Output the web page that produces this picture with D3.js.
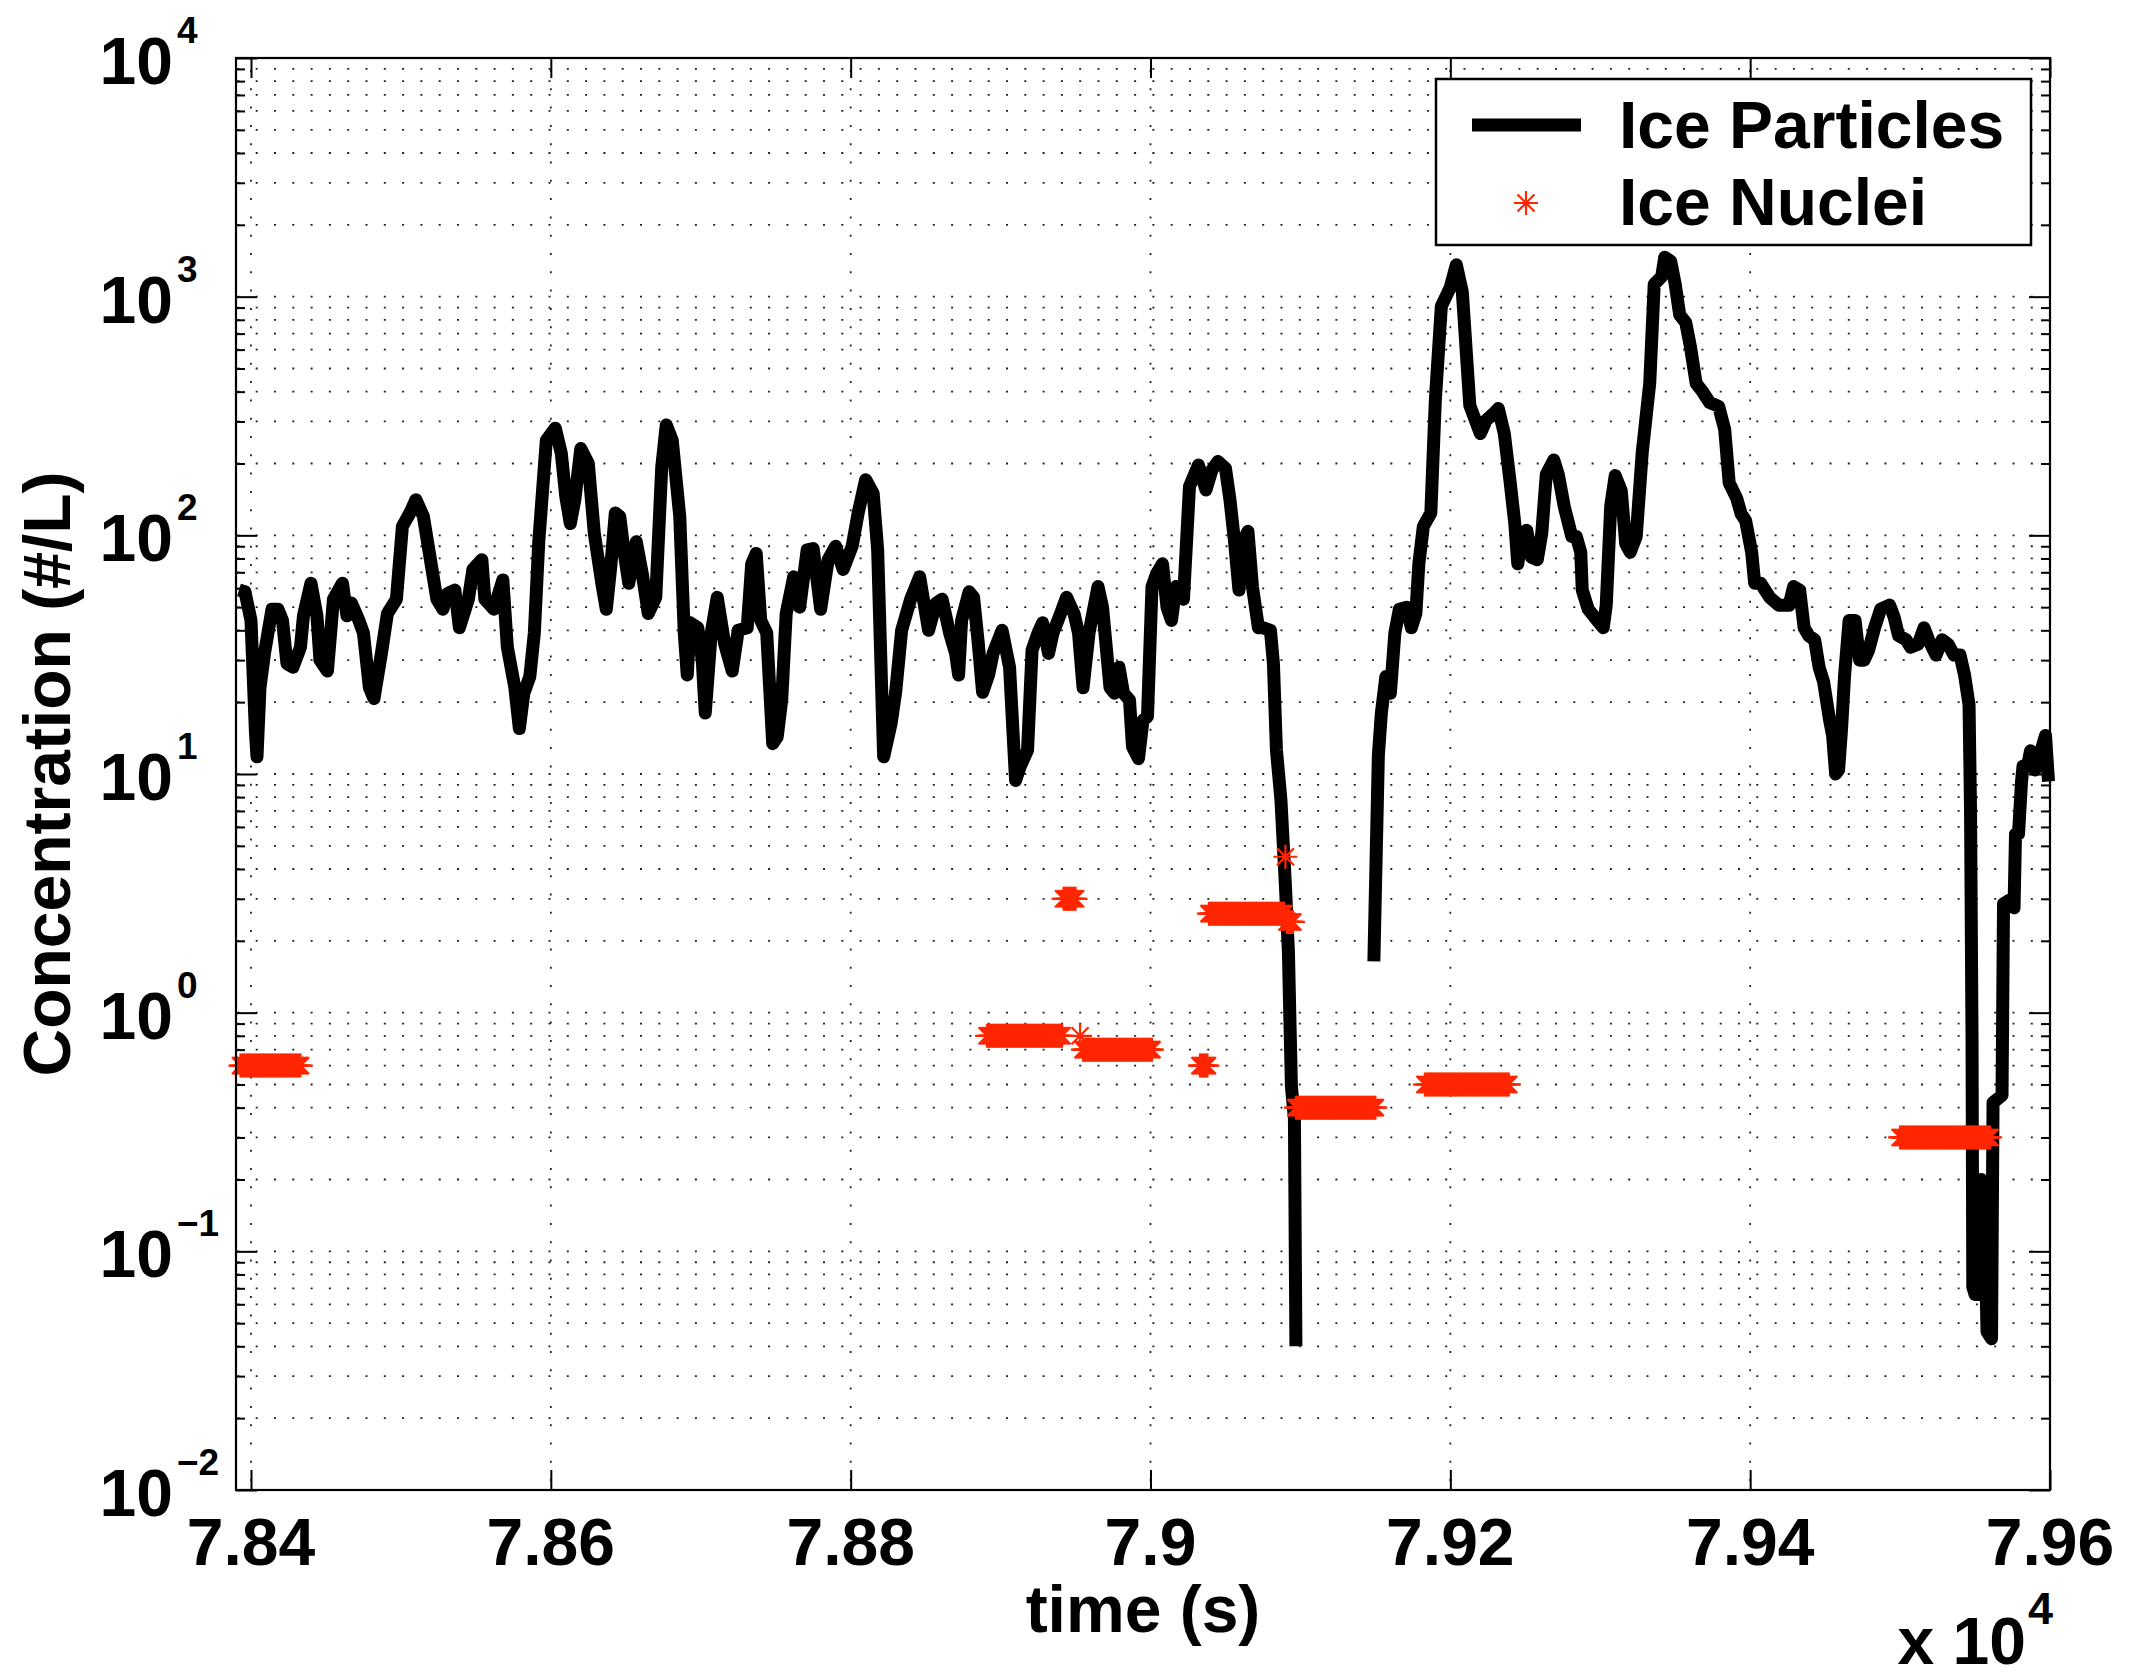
<!DOCTYPE html>
<html>
<head>
<meta charset="utf-8">
<script src="https://cdn.jsdelivr.net/npm/d3@7"></script>
<style>
  html, body { margin: 0; padding: 0; background: #fff; }
  svg { display: block; }
  text { font-family: "Liberation Sans", Arial, Helvetica, sans-serif; font-weight: bold; fill: #000; }
</style>
</head>
<body>
<svg id="chart" width="2132" height="1672"></svg>
<script>
// ---- Ice particle concentration time series (#/L); null marks missing data ----
const ipTime = [
  78392, 78396, 78400, 78403, 78404, 78406, 78409, 78414, 78418, 78421,
  78424, 78428, 78433, 78435, 78440, 78444, 78446, 78451, 78455, 78461,
  78464, 78467, 78472, 78475, 78479, 78482, 78487, 78491, 78497, 78501,
  78506, 78510, 78515, 78519, 78524, 78528, 78531, 78536, 78539, 78545,
  78548, 78554, 78556, 78562, 78568, 78571, 78576, 78579, 78582, 78586,
  78589, 78592, 78597, 78603, 78607, 78610, 78613, 78616, 78620, 78625,
  78629, 78634, 78637, 78640, 78643, 78646, 78649, 78652, 78657, 78661,
  78665, 78670, 78674, 78677, 78681, 78686, 78689, 78691, 78693, 78698,
  78701, 78703, 78707, 78711, 78716, 78721, 78725, 78731, 78734, 78737,
  78740, 78744, 78748, 78751, 78754, 78757, 78762, 78766, 78771, 78775,
  78780, 78785, 78790, 78795, 78801, 78805, 78810, 78815, 78818, 78822,
  78827, 78830, 78834, 78840, 78846, 78852, 78857, 78861, 78866, 78870,
  78872, 78874, 78879, 78882, 78885, 78888, 78892, 78895, 78901, 78906,
  78910, 78913, 78918, 78921, 78925, 78928, 78932, 78935, 78940, 78944,
  78949, 78952, 78955, 78959, 78965, 78968, 78973, 78976, 78979, 78982,
  78986, 78988, 78992, 78995, 78998, 79001, 79004, 79008, 79011, 79014,
  79017, 79022, 79026, 79032, 79037, 79041, 79045, 79050, 79053, 79056,
  79059, 79061, 79065, 79068, 79072, 79075, 79080, 79082, 79084, 79087,
  79089, 79090, 79092, 79093, 79094, 79096, 79097, 79120, 79149, 79152,
  79154, 79157, 79160, 79163, 79166, 79171, 79174, 79177, 79179, 79182,
  79187, 79190, 79194, 79200, 79204, 79208, 79213, 79220, 79224, 79229,
  79232, 79236, 79240, 79243, 79245, 79248, 79251, 79254, 79258, 79261,
  79264, 79269, 79272, 79276, 79281, 79284, 79287, 79288, 79292, 79298,
  79302, 79304, 79307, 79310, 79314, 79317, 79320, 79324, 79328, 79333,
  79336, 79341, 79343, 79347, 79350, 79353, 79357, 79360, 79364, 79368,
  79373, 79379, 79383, 79386, 79391, 79394, 79397, 79401, 79403, 79407,
  79413, 79419, 79426, 79429, 79433, 79436, 79439, 79443, 79446, 79449,
  79453, 79455, 79457, 79459, 79461, 79463, 79466, 79470, 79473, 79476,
  79479, 79483, 79487, 79493, 79496, 79499, 79504, 79507, 79512, 79516,
  79519, 79524, 79528, 79532, 79536, 79540, 79543, 79546, 79547, 79548,
  79548.5, 79550, 79553, 79554, 79556, 79558, 79561, 79562, 79565, 79568,
  79569, 79573, 79576, 79577, 79579, 79581, 79582, 79585, 79587, 79590,
  79594, 79597, 79599
];
const ipConc = [
  59, 58, 44, 14.8, 11.8, 23, 32, 49, 49, 44,
  29, 28, 34, 46, 63, 46, 30, 27, 54, 63,
  46, 52, 44, 39, 23, 20.7, 32, 47, 54, 109,
  124, 141, 120, 84, 54, 49, 57, 59, 41, 54,
  72, 79, 54, 49, 65, 34, 23, 15.5, 21.8, 25.6,
  39, 95, 250, 281, 220, 145, 112, 141, 231, 200,
  102, 63, 49, 74, 124, 120, 84, 63, 94, 69,
  47, 55, 194, 290, 250, 120, 39, 26, 43, 41,
  30, 18, 39, 55, 35, 27, 40, 41, 76, 84,
  44, 39, 13.4, 14.3, 20.4, 47, 67, 50, 87, 88,
  49, 79, 90, 72, 90, 124, 171, 150, 87, 11.8,
  16.3, 22, 40, 54, 67, 40, 52, 54, 39, 32,
  26, 44, 58, 55, 36, 22, 26, 32, 40, 28,
  9.4, 10.7, 12.6, 33, 39, 43, 32, 39, 47, 55,
  47, 39, 23, 39, 61, 50, 23, 21.8, 28, 21.8,
  20.4, 13, 11.6, 16.8, 17.4, 61, 69, 76, 50, 44,
  61, 54, 160, 197, 155, 188, 204, 191, 141, 95,
  59, 92, 104, 61, 41, 41, 40, 29, 12.6, 7.8,
  4.5, 3.4, 1.8, 0.93, 0.49, 0.36, 0.04, null, 1.64, 12,
  18, 25.6, 21.8, 39, 49, 50, 41, 47, 76, 109,
  124, 369, 912, 1096, 1360, 1047, 350, 267, 304, 324,
  340, 267, 165, 112, 76, 102, 105, 81, 79, 102,
  180, 207, 180, 132, 99, 99, 85, 59, 49, 44,
  41, 51, 133, 178, 154, 92, 85, 99, 222, 433,
  1127, 1216, 1462, 1409, 1127, 839, 780, 625, 433, 402,
  360, 347, 278, 166, 143, 123, 115, 85, 63, 63,
  55, 51, 51, 61, 59, 41, 38, 36.5, 28, 24.3,
  16.8, 14.5, 10, 10.4, 15.6, 26, 44, 44, 30, 30,
  33, 41, 49, 51, 45.5, 38, 36.5, 34, 35, 41,
  36.5, 31.5, 36.5, 35, 31.5, 31.5, 26, 19.5, 7, 0.77,
  0.071, 0.066, 0.066, 0.2, 0.186, 0.046, 0.043, 0.42, 0.435, 0.45,
  2.86, 2.96, 2.75, 5.6, 5.6, 9.3, 10.8, 10.8, 12.5, 10.4,
  12.5, 14.5, 9.3
];

// ---- Ice nuclei: runs of constant 1 Hz readings (start s, end s, #/L) ----
const inStart = [78393, 78891, 78942, 78953, 78955, 79033, 79039, 79090, 79091, 79097, 79183, 79500];
const inEnd   = [78433, 78941, 78950, 78953, 79001, 79038, 79089, 79090, 79095, 79150, 79239, 79560];
const inConc  = [0.6,   0.8,   3.0,   0.8,   0.7,   0.6,   2.6,   4.5,   2.4,   0.4,   0.5,   0.3];
const inStep = 1; // sampling interval, s

// ---- axes ----
const xDomain = [78390, 79600];
const yDomain = [1e-2, 1e4];
const xTicks = [78400, 78600, 78800, 79000, 79200, 79400, 79600];
const xTickLabels = ["7.84", "7.86", "7.88", "7.9", "7.92", "7.94", "7.96"];
const yExponents = [-2, -1, 0, 1, 2, 3, 4];
const seriesNames = ["Ice Particles", "Ice Nuclei"];

const plot = { left: 236, right: 2050, top: 58, bottom: 1490 };
const particleColor = "#000";
const nucleiColor = "#ff2600";

const svg = d3.select("#chart");
const x = d3.scaleLinear().domain(xDomain).range([plot.left, plot.right]);
const y = d3.scaleLog().domain(yDomain).range([plot.bottom, plot.top]);

svg.append("rect").attr("width", 2132).attr("height", 1672).attr("fill", "#fff");

// dotted grid
const grid = svg.append("g")
  .attr("stroke", "#222").attr("stroke-width", 1.8).attr("stroke-dasharray", "2,16.3");
grid.selectAll("line.h").data(y.ticks()).join("line").attr("class", "h")
  .attr("x1", plot.left).attr("x2", plot.right)
  .attr("y1", d => y(d)).attr("y2", d => y(d))
  .attr("stroke-dashoffset", 16.9);
grid.selectAll("line.v").data(xTicks).join("line").attr("class", "v")
  .attr("x1", d => x(d)).attr("x2", d => x(d))
  .attr("y1", plot.top).attr("y2", plot.bottom)
  .attr("stroke-dashoffset", 6.3);

// tick marks, drawn inward on all four sides
const yMajor = yExponents.map(e => Math.pow(10, e));
const yMinor = y.ticks().filter(v => !yMajor.some(m => Math.abs(v - m) / m < 1e-9));
function styleAxis(g) {
  g.select(".domain").remove();
  g.selectAll("text").remove();
  g.selectAll("line").attr("stroke", "#000").attr("stroke-width", 2);
}
svg.append("g").attr("transform", `translate(${plot.left},0)`)
  .call(d3.axisRight(y).tickValues(yMajor).tickSize(21).tickFormat("")).call(styleAxis);
svg.append("g").attr("transform", `translate(${plot.left},0)`)
  .call(d3.axisRight(y).tickValues(yMinor).tickSize(9).tickFormat("")).call(styleAxis);
svg.append("g").attr("transform", `translate(${plot.right},0)`)
  .call(d3.axisLeft(y).tickValues(yMajor).tickSize(21).tickFormat("")).call(styleAxis);
svg.append("g").attr("transform", `translate(${plot.right},0)`)
  .call(d3.axisLeft(y).tickValues(yMinor).tickSize(9).tickFormat("")).call(styleAxis);
svg.append("g").attr("transform", `translate(0,${plot.bottom})`)
  .call(d3.axisTop(x).tickValues(xTicks).tickSize(20).tickFormat("")).call(styleAxis);
svg.append("g").attr("transform", `translate(0,${plot.top})`)
  .call(d3.axisBottom(x).tickValues(xTicks).tickSize(20).tickFormat("")).call(styleAxis);

// ice particle line
const ipData = ipTime.map((t, i) => ({ t, v: ipConc[i] }));
const line = d3.line().defined(d => d.v != null).x(d => x(d.t)).y(d => y(d.v));
svg.append("path").datum(ipData)
  .attr("d", line)
  .attr("fill", "none").attr("stroke", particleColor)
  .attr("stroke-width", 13).attr("stroke-linejoin", "round").attr("stroke-linecap", "butt");

// ice nuclei asterisks
const starPath = "M-12,0H12M0,-12V12M-8.5,-8.5L8.5,8.5M-8.5,8.5L8.5,-8.5";
const inData = [];
inStart.forEach((s, i) => {
  for (let t = s; t <= inEnd[i]; t += inStep) inData.push({ t, v: inConc[i] });
});
svg.append("g").selectAll("path").data(inData).join("path")
  .attr("transform", d => `translate(${x(d.t)},${y(d.v)})`)
  .attr("d", starPath)
  .attr("fill", "none").attr("stroke", nucleiColor).attr("stroke-width", 2.2);

// axis box
svg.append("rect")
  .attr("x", plot.left).attr("y", plot.top)
  .attr("width", plot.right - plot.left).attr("height", plot.bottom - plot.top)
  .attr("fill", "none").attr("stroke", "#000").attr("stroke-width", 2.2);

// y tick labels: 10 with superscript exponent
const yLab = svg.append("g");
yLab.selectAll("text.base").data(yExponents).join("text").attr("class", "base")
  .attr("x", 173).attr("y", e => y(Math.pow(10, e)) + 26)
  .attr("text-anchor", "end").attr("font-size", 66).text("10");
yLab.selectAll("text.exp").data(yExponents).join("text").attr("class", "exp")
  .attr("x", 177).attr("y", e => y(Math.pow(10, e)) - 15)
  .attr("font-size", 37).text(e => e < 0 ? "\u2212" + Math.abs(e) : String(e));

// x tick labels
svg.append("g").selectAll("text").data(xTicks).join("text")
  .attr("x", d => x(d)).attr("y", 1565)
  .attr("text-anchor", "middle").attr("font-size", 66)
  .text((d, i) => xTickLabels[i]);

// axis titles and exponent note
svg.append("text").attr("x", (plot.left + plot.right) / 2).attr("y", 1632)
  .attr("text-anchor", "middle").attr("font-size", 66).text("time (s)");
svg.append("text")
  .attr("transform", `translate(70,${(plot.top + plot.bottom) / 2}) rotate(-90)`)
  .attr("text-anchor", "middle").attr("font-size", 66).text("Concentration (#/L)");
svg.append("text").attr("x", 2026).attr("y", 1664)
  .attr("text-anchor", "end").attr("font-size", 66).text("x 10");
svg.append("text").attr("x", 2028).attr("y", 1624)
  .attr("font-size", 45).text("4");

// legend
const lg = svg.append("g");
lg.append("rect").attr("x", 1436).attr("y", 79).attr("width", 595).attr("height", 166)
  .attr("fill", "#fff").attr("stroke", "#000").attr("stroke-width", 2.5);
lg.append("line").attr("x1", 1472).attr("x2", 1581).attr("y1", 125).attr("y2", 125)
  .attr("stroke", particleColor).attr("stroke-width", 13);
lg.append("path").attr("transform", "translate(1526,203)").attr("d", starPath)
  .attr("fill", "none").attr("stroke", nucleiColor).attr("stroke-width", 2.2);
lg.selectAll("text").data(seriesNames).join("text")
  .attr("x", 1619).attr("y", (d, i) => 148 + i * 77)
  .attr("font-size", 66).text(d => d);
</script>
</body>
</html>
